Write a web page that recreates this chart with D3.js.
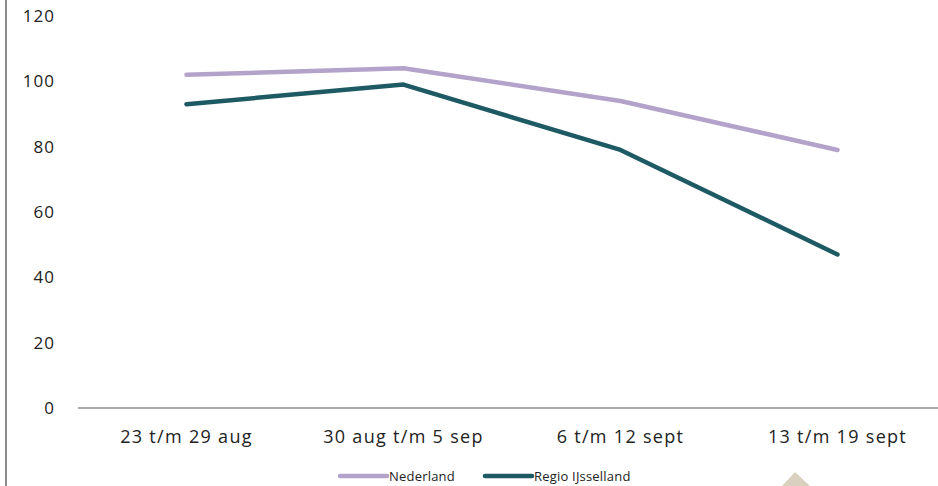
<!DOCTYPE html>
<html><head><meta charset="utf-8">
<script src="https://cdn.jsdelivr.net/npm/d3@7"></script>
<style>body{margin:0;background:#fff}svg{display:block}</style>
</head><body>
<svg id="c" width="938" height="486"></svg>
<script>
const categories = ["23 t/m 29 aug", "30 aug t/m 5 sep", "6 t/m 12 sept", "13 t/m 19 sept"];
const nederland = [102, 104, 94, 79];
const regioIJsselland = [93, 99, 79, 47];
const yTicks = [0, 20, 40, 60, 80, 100, 120];
const seriesNames = ["Nederland", "Regio IJsselland"];
const seriesColors = ["#b3a2c9", "#1e5a64"];

const svg = d3.select("#c");
const font = "'Open Sans', 'Noto Sans', sans-serif";

const x = d3.scaleBand().domain(categories).range([78, 946]);
const y = d3.scaleLinear().domain([0, 120]).range([408, 16]);

// left border
svg.append("line").attr("x1", 6).attr("x2", 6).attr("y1", 0).attr("y2", 486)
  .attr("stroke", "#8c8c8c").attr("stroke-width", 2);

// y labels
svg.append("g").selectAll("text").data(yTicks).join("text")
  .attr("x", 55).attr("y", d => y(d)).attr("dy", "0.35em")
  .attr("text-anchor", "end").attr("font-family", font).attr("font-size", 17)
  .attr("letter-spacing", 1).attr("fill", "#222").text(d => d);

// baseline
svg.append("line").attr("x1", 78).attr("x2", 946).attr("y1", y(0)).attr("y2", y(0))
  .attr("stroke", "#8c8c8c").attr("stroke-width", 1.5);

// x labels
svg.append("g").selectAll("text").data(categories).join("text")
  .attr("x", d => x(d) + x.bandwidth() / 2).attr("y", 443)
  .attr("text-anchor", "middle").attr("font-family", font).attr("font-size", 18)
  .attr("letter-spacing", 1.3).attr("fill", "#222").text(d => d);

const line = d3.line().x((d, i) => x(categories[i]) + x.bandwidth() / 2).y(d => y(d));
[nederland, regioIJsselland].forEach((s, k) => {
  svg.append("path").attr("d", line(s)).attr("fill", "none")
    .attr("stroke", seriesColors[k]).attr("stroke-width", 4.5)
    .attr("stroke-linecap", "round").attr("stroke-linejoin", "round");
});

// decoration
svg.append("polygon").attr("points", "795,472 782,486 810,486").attr("fill", "#d9d0c0");

// legend
const legendX = [340, 485];
seriesNames.forEach((n, k) => {
  svg.append("line").attr("x1", legendX[k]).attr("x2", legendX[k] + 47)
    .attr("y1", 476).attr("y2", 476).attr("stroke", seriesColors[k])
    .attr("stroke-width", 4.5).attr("stroke-linecap", "round");
  svg.append("text").attr("x", legendX[k] + 49).attr("y", 476).attr("dy", "0.35em")
    .attr("font-family", font).attr("font-size", 13).attr("letter-spacing", 0.2)
    .attr("fill", "#222").text(n);
});
</script>
</body></html>
